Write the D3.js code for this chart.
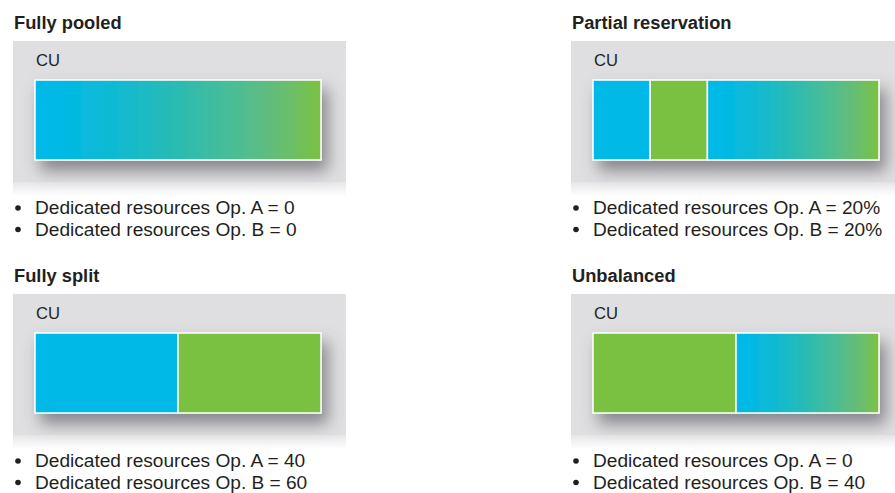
<!DOCTYPE html>
<html>
<head>
<meta charset="utf-8">
<script src="https://cdn.jsdelivr.net/npm/d3@7"></script>
<style>
  html, body { margin: 0; padding: 0; background: #ffffff; }
  svg { display: block; }
  text { font-family: "Liberation Sans", Arial, sans-serif; fill: #231f20; }
</style>
</head>
<body>
<svg id="chart" width="895" height="493"></svg>
<script>
// ---- data ----
const panelTitles = ["Fully pooled", "Partial reservation", "Fully split", "Unbalanced"];
const panelCols = [0, 1, 0, 1];
const panelRows = [0, 0, 1, 1];
const boxLabel = "CU";
// segment kinds per panel: "A" = Op. A (blue), "B" = Op. B (green), "P" = pooled (gradient)
const segmentKinds = [["P"], ["A", "B", "P"], ["A", "B"], ["B", "P"]];
// segment shares in % of the CU
const segmentShares = [[100], [20, 20, 60], [50, 50], [50, 50]];
const opAValues = ["0", "20%", "40", "0"];
const opBValues = ["0", "20%", "60", "40"];

// ---- layout ----
const W = 895, H = 493;
const svg = d3.select("#chart");
const blue = "#00b9e6", green = "#7ac143";

const colX = d3.scaleOrdinal().domain([0, 1]).range([13, 571]);
const rowY = d3.scaleOrdinal().domain([0, 1]).range([41, 294]);
const boxW = 333, boxH = 141;
const barX0 = 22, barY0 = 39, barW = 286, barH = 80;
const x = d3.scaleLinear().domain([0, 100]).range([0, barW]);

const defs = svg.append("defs");
const grad = defs.append("linearGradient").attr("id", "pooled")
  .attr("x1", "0%").attr("x2", "100%").attr("y1", "0%").attr("y2", "0%");
[[0, "#00b9e6"], [0.08, "#00b9e6"], [0.3, "#12bad0"], [0.5, "#2bbbb1"], [0.68, "#48bd97"],
 [0.8, "#5ebc82"], [0.9, "#6cbf66"], [1, "#7bc142"]]
  .forEach(([o, c]) => grad.append("stop").attr("offset", o).attr("stop-color", c));

const fade = defs.append("linearGradient").attr("id", "fade")
  .attr("x1", "0").attr("x2", "0").attr("y1", "0").attr("y2", "1");
fade.append("stop").attr("offset", 0).attr("stop-color", "#e6e6e8");
fade.append("stop").attr("offset", 1).attr("stop-color", "#ffffff");

const shadow = defs.append("filter").attr("id", "shadow")
  .attr("x", "-20%").attr("y", "-30%").attr("width", "150%").attr("height", "180%");
shadow.append("feGaussianBlur").attr("in", "SourceAlpha").attr("stdDeviation", 8).attr("result", "blur");
shadow.append("feOffset").attr("in", "blur").attr("dx", 6).attr("dy", 10).attr("result", "off");
shadow.append("feFlood").attr("flood-color", "#55555f").attr("flood-opacity", 0.65);
shadow.append("feComposite").attr("in2", "off").attr("operator", "in").attr("result", "sh");
const merge = shadow.append("feMerge");
merge.append("feMergeNode").attr("in", "sh");
merge.append("feMergeNode").attr("in", "SourceGraphic");

const fillFor = k => k === "A" ? blue : k === "B" ? green : "url(#pooled)";

const panels = svg.selectAll("g.panel")
  .data(panelTitles.map((t, i) => ({
    title: t, col: panelCols[i], row: panelRows[i],
    kinds: segmentKinds[i], shares: segmentShares[i], a: opAValues[i], b: opBValues[i]
  })))
  .join("g").attr("class", "panel")
  .attr("transform", d => `translate(${colX(d.col)},${rowY(d.row)})`);

panels.append("text")
  .attr("x", 1).attr("y", -12)
  .attr("font-size", 18.3).attr("font-weight", "bold")
  .text(d => d.title);

panels.append("rect")
  .attr("x", 0).attr("y", boxH).attr("width", boxW).attr("height", 14)
  .attr("fill", "url(#fade)");

panels.append("rect")
  .attr("x", 0).attr("y", 0).attr("width", boxW).attr("height", boxH)
  .attr("fill", "#dfdfe1");

panels.append("text")
  .attr("x", 23).attr("y", 25)
  .attr("font-size", 16.6)
  .text(boxLabel);

const bars = panels.append("g")
  .attr("transform", `translate(${barX0},${barY0})`)
  .attr("filter", "url(#shadow)");

bars.selectAll("rect.seg")
  .data(d => {
    let acc = 0;
    return d.shares.map((s, j) => { const o = { kind: d.kinds[j], start: acc, share: s }; acc += s; return o; });
  })
  .join("rect").attr("class", "seg")
  .attr("x", s => x(s.start))
  .attr("y", 0)
  .attr("width", s => x(s.start + s.share) - x(s.start))
  .attr("height", barH)
  .attr("fill", s => fillFor(s.kind))
  .attr("stroke", "#ffffff")
  .attr("stroke-width", 1.5);

const bullets = panels.append("g").attr("transform", "translate(0,173)");
bullets.selectAll("g.line")
  .data(d => [`Dedicated resources Op. A = ${d.a}`, `Dedicated resources Op. B = ${d.b}`])
  .join("g").attr("class", "line")
  .attr("transform", (t, i) => `translate(0,${i * 21.5})`)
  .call(g => {
    g.append("circle").attr("cx", 5).attr("cy", -6).attr("r", 2.8).attr("fill", "#231f20");
    g.append("text").attr("x", 22).attr("y", 0).attr("font-size", 19.1).text(t => t);
  });
</script>
</body>
</html>
